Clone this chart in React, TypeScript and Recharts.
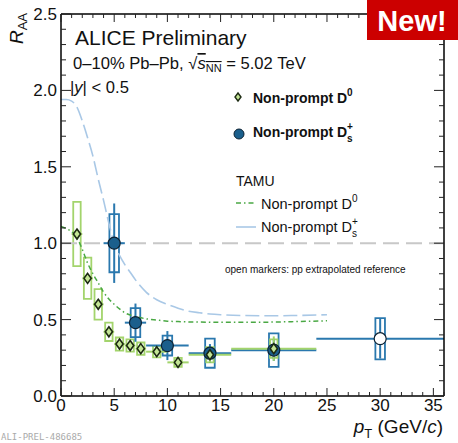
import React from "react";
import {
  ComposedChart,
  Scatter,
  Line,
  XAxis,
  YAxis,
  ErrorBar,
  ReferenceArea,
  ReferenceLine,
} from "recharts";

// ALICE non-prompt D0, 0-10% Pb-Pb
const d0Pt = [1.5, 2.5, 3.5, 4.5, 5.5, 6.5, 7.5, 9, 11, 14, 20];
const d0Lo = [1, 2, 3, 4, 5, 6, 7, 8, 10, 12, 16];
const d0Hi = [2, 3, 4, 5, 6, 7, 8, 10, 12, 16, 24];
const d0Raa = [1.06, 0.77, 0.6, 0.42, 0.34, 0.33, 0.31, 0.29, 0.22, 0.27, 0.31];
const d0Stat = [0.03, 0.03, 0.02, 0.02, 0.015, 0.015, 0.015, 0.02, 0.02, 0.05, 0.08];
const d0Syst = [0.21, 0.135, 0.1, 0.06, 0.043, 0.04, 0.04, 0.037, 0.03, 0.05, 0.06];

// ALICE non-prompt Ds+
const dsPt = [5, 7, 10, 14, 20, 30];
const dsLo = [4, 6, 8, 12, 16, 24];
const dsHi = [6, 8, 12, 16, 24, 36];
const dsRaa = [1.0, 0.48, 0.33, 0.28, 0.3, 0.375];
const dsStat = [0.26, 0.125, 0.095, 0.06, 0.07, 0.13];
const dsSyst = [0.19, 0.095, 0.065, 0.095, 0.11, 0.135];
const dsOpen = [false, false, false, false, false, true];

// TAMU model curves
const tamuPt = [0, 0.5, 1, 1.5, 2, 2.5, 3, 3.5, 4, 4.5, 5, 5.5, 6, 6.5, 7, 8, 9, 10, 11, 12, 13, 14, 15, 17, 20, 22, 25];
const tamuD0 = [1.11, 1.095, 1.075, 1.035, 0.96, 0.87, 0.8, 0.74, 0.68, 0.635, 0.6, 0.57, 0.545, 0.53, 0.52, 0.505, 0.497, 0.49, 0.487, 0.485, 0.484, 0.483, 0.482, 0.482, 0.484, 0.487, 0.492];
const tamuDs = [1.94, 1.94, 1.93, 1.89, 1.8, 1.69, 1.57, 1.42, 1.28, 1.13, 1.0, 0.92, 0.86, 0.81, 0.76, 0.68, 0.63, 0.6, 0.575, 0.555, 0.545, 0.537, 0.532, 0.527, 0.525, 0.527, 0.532];

// ticks: every value gets a minor tick, the labelled ones get a long tick
const xTicks = [0, 1, 2, 3, 4, 5, 6, 7, 8, 9, 10, 11, 12, 13, 14, 15, 16, 17, 18, 19, 20, 21, 22, 23, 24, 25, 26, 27, 28, 29, 30, 31, 32, 33, 34, 35, 36];
const xLabels = [0, 5, 10, 15, 20, 25, 30, 35];
const yTicks = [0, 0.1, 0.2, 0.3, 0.4, 0.5, 0.6, 0.7, 0.8, 0.9, 1, 1.1, 1.2, 1.3, 1.4, 1.5, 1.6, 1.7, 1.8, 1.9, 2, 2.1, 2.2, 2.3, 2.4, 2.5];
const yLabels = [0, 0.5, 1, 1.5, 2, 2.5];

const GREEN = "#a3d46c";
const GREEN_DARK = "#4aa844";
const BLUE = "#2a78ae";
const BLUE_FILL = "#1b5f8c";
const LIGHT_BLUE = "#a9c8e6";
const FONT = "'Liberation Sans', Arial, Helvetica, sans-serif";
const TICK = "#222";

const d0Data = d0Pt.map((x, i) => ({
  x,
  y: d0Raa[i],
  ex: [x - d0Lo[i], d0Hi[i] - x],
  ey: d0Stat[i],
}));
const dsData = dsPt.map((x, i) => ({
  x,
  y: dsRaa[i],
  ex: [x - dsLo[i], dsHi[i] - x],
  ey: dsStat[i],
  open: dsOpen[i],
}));
const tamuD0Data = tamuPt.map((x, i) => ({ x, y: tamuD0[i] }));
const tamuDsData = tamuPt.map((x, i) => ({ x, y: tamuDs[i] }));

const isYMajor = (v: number) => yLabels.some((l) => Math.abs(l - v) < 1e-6);
const isXMajor = (v: number) => xLabels.includes(v);

// ROOT-style inward ticks (tickSize=0 so x/y is the plot edge)
const LeftTick = (p: any) => {
  const major = isYMajor(p.payload.value);
  return (
    <g>
      <line x1={p.x} x2={p.x + (major ? 10 : 5)} y1={p.y} y2={p.y} stroke={TICK} />
      {major && (
        <text x={p.x - 4} y={p.y + 6} textAnchor="end" fontSize={17} fill="#111" fontFamily={FONT}>
          {p.payload.value.toFixed(1)}
        </text>
      )}
    </g>
  );
};
const RightTick = (p: any) => {
  const major = isYMajor(p.payload.value);
  return <line x1={p.x} x2={p.x - (major ? 10 : 5)} y1={p.y} y2={p.y} stroke={TICK} />;
};
const BottomTick = (p: any) => {
  const major = isXMajor(p.payload.value);
  return (
    <g>
      <line x1={p.x} x2={p.x} y1={p.y} y2={p.y - (major ? 8 : 4)} stroke={TICK} />
      {major && (
        <text x={p.x} y={p.y + 15} textAnchor="middle" fontSize={17} fill="#111" fontFamily={FONT}>
          {p.payload.value}
        </text>
      )}
    </g>
  );
};
const TopTick = (p: any) => {
  const major = isXMajor(p.payload.value);
  return <line x1={p.x} x2={p.x} y1={p.y} y2={p.y + (major ? 8 : 4)} stroke={TICK} />;
};

const Diamond = (p: any) => (
  <path
    d={`M${p.cx},${p.cy - 5}L${p.cx + 3.6},${p.cy}L${p.cx},${p.cy + 5}L${p.cx - 3.6},${p.cy}Z`}
    fill="#c4e596"
    stroke="#1c2a12"
    strokeWidth={1.6}
  />
);

const Dot = (p: any) => (
  <circle
    cx={p.cx}
    cy={p.cy}
    r={6}
    fill={p.payload.open ? "#ffffff" : BLUE_FILL}
    stroke="#0d2233"
    strokeWidth={1.2}
  />
);

const frame = { stroke: "#000", strokeWidth: 1.5 };

export default function App() {
  return (
    <div style={{ position: "absolute", left: 0, top: 0, width: 458, height: 443, background: "#fff" }}>
      <ComposedChart width={458} height={443} margin={{ top: 13, right: 13, left: 0, bottom: 0 }}>
        <XAxis xAxisId="x" type="number" dataKey="x" domain={[0, 36]} allowDataOverflow ticks={xTicks} interval={0}
          tick={BottomTick} tickLine={false} tickSize={0} tickMargin={0} height={47} axisLine={frame} />
        <XAxis xAxisId="xt" orientation="top" type="number" dataKey="x" domain={[0, 36]} allowDataOverflow ticks={xTicks}
          interval={0} tick={TopTick} tickLine={false} tickSize={0} tickMargin={0} height={1} axisLine={frame} />
        <YAxis yAxisId="y" type="number" domain={[0, 2.5]} allowDataOverflow ticks={yTicks} interval={0}
          tick={LeftTick} tickLine={false} tickSize={0} tickMargin={0} width={61} axisLine={frame} />
        <YAxis yAxisId="yr" orientation="right" type="number" domain={[0, 2.5]} allowDataOverflow ticks={yTicks}
          interval={0} tick={RightTick} tickLine={false} tickSize={0} tickMargin={0} width={1} axisLine={frame} />

        <ReferenceLine xAxisId="x" yAxisId="y" y={1} stroke="#c8c8c8" strokeWidth={2} strokeDasharray="16 7" />

        <Line xAxisId="x" yAxisId="y" data={tamuDsData} dataKey="y" type="monotone" stroke={LIGHT_BLUE}
          strokeWidth={1.6} strokeDasharray="14 5" dot={false} isAnimationActive={false} />
        <Line xAxisId="x" yAxisId="y" data={tamuD0Data} dataKey="y" type="monotone" stroke={GREEN_DARK}
          strokeWidth={1.5} strokeDasharray="5 3 1.5 3" dot={false} isAnimationActive={false} />

        {dsData.map((d, i) => (
          <ReferenceArea key={`dsb${i}`} xAxisId="x" yAxisId="y" x1={d.x - 0.45} x2={d.x + 0.45}
            y1={d.y - dsSyst[i]} y2={d.y + dsSyst[i]} fill="none" stroke={BLUE} strokeWidth={1.8} />
        ))}
        <Scatter xAxisId="x" yAxisId="y" data={dsData} dataKey="y" shape={Dot} isAnimationActive={false}>
          <ErrorBar dataKey="ex" direction="x" width={0} stroke={BLUE} strokeWidth={2} />
          <ErrorBar dataKey="ey" direction="y" width={0} stroke={BLUE} strokeWidth={2} />
        </Scatter>

        {d0Data.map((d, i) => (
          <ReferenceArea key={`d0b${i}`} xAxisId="x" yAxisId="y" x1={d.x - 0.35} x2={d.x + 0.35}
            y1={d.y - d0Syst[i]} y2={d.y + d0Syst[i]} fill="none" stroke={GREEN} strokeWidth={1.8} />
        ))}
        <Scatter xAxisId="x" yAxisId="y" data={d0Data} dataKey="y" shape={Diamond} isAnimationActive={false}>
          <ErrorBar dataKey="ex" direction="x" width={0} stroke={GREEN} strokeWidth={2} />
          <ErrorBar dataKey="ey" direction="y" width={0} stroke={GREEN} strokeWidth={2} />
        </Scatter>
      </ComposedChart>

      <svg width={458} height={443} style={{ position: "absolute", left: 0, top: 0, pointerEvents: "none" }}
        fontFamily={FONT} fill="#111">
        {/* axis titles */}
        <text x={23} y={13} transform="rotate(-90 23 13)" textAnchor="end" fontSize={19}>
          <tspan fontStyle="italic">R</tspan>
          <tspan fontSize={13} dy={4}>AA</tspan>
        </text>
        <text x={443} y={433} textAnchor="end" fontSize={19}>
          <tspan fontStyle="italic">p</tspan>
          <tspan fontSize={13} dy={5}>T</tspan>
          <tspan dy={-5}> (GeV/</tspan>
          <tspan fontStyle="italic">c</tspan>
          <tspan>)</tspan>
        </text>

        {/* header */}
        <text x={75} y={45} fontSize={21}>ALICE Preliminary</text>
        <text x={73} y={69} fontSize={16.6}>
          <tspan>0–10% Pb–Pb, √</tspan>
          <tspan fontStyle="italic" textDecoration="overline">s</tspan>
          <tspan fontSize={11} dy={3} textDecoration="overline">NN</tspan>
          <tspan dy={-3}> = 5.02 TeV</tspan>
        </text>
        <text x={70} y={93} fontSize={16.6}>
          <tspan>|</tspan>
          <tspan fontStyle="italic">y</tspan>
          <tspan>| &lt; 0.5</tspan>
        </text>

        {/* data legend */}
        <path d="M238,93L241,97L238,101L235,97Z" fill="#c4e596" stroke="#1c2a12" strokeWidth={1.4} />
        <text x={253} y={103} fontSize={14} fontWeight="bold">
          Non-prompt D<tspan fontSize={10} dy={-7}>0</tspan>
        </text>
        <circle cx={239} cy={134} r={5} fill={BLUE_FILL} stroke="#0d2233" strokeWidth={1} />
        <text x={253} y={137} fontSize={14} fontWeight="bold">
          Non-prompt D<tspan fontSize={10} dy={-7}>+</tspan>
          <tspan fontSize={10} dx={-6} dy={12}>s</tspan>
        </text>

        {/* model legend */}
        <text x={236} y={186} fontSize={14}>TAMU</text>
        <line x1={236} y1={203} x2={256} y2={203} stroke={GREEN_DARK} strokeWidth={1.5} strokeDasharray="5 3 1.5 3" />
        <text x={261} y={209} fontSize={14.5}>
          Non-prompt D<tspan fontSize={10} dy={-7}>0</tspan>
        </text>
        <line x1={236} y1={227} x2={256} y2={227} stroke={LIGHT_BLUE} strokeWidth={1.6} />
        <text x={261} y={232} fontSize={14.5}>
          Non-prompt D<tspan fontSize={10} dy={-7}>+</tspan>
          <tspan fontSize={10} dx={-6} dy={12}>s</tspan>
        </text>

        <text x={225} y={273} fontSize={10}>open markers: pp extrapolated reference</text>

        {/* badge */}
        <rect x={367} y={0} width={91} height={40} fill="#cc0000" />
        <text x={412} y={31} textAnchor="middle" fontSize={29} fontWeight="bold" fill="#fff">New!</text>

        <text x={1} y={440} fontSize={9} fill="#aaa" fontFamily="'DejaVu Sans Mono', monospace">ALI-PREL-486685</text>
      </svg>
    </div>
  );
}
